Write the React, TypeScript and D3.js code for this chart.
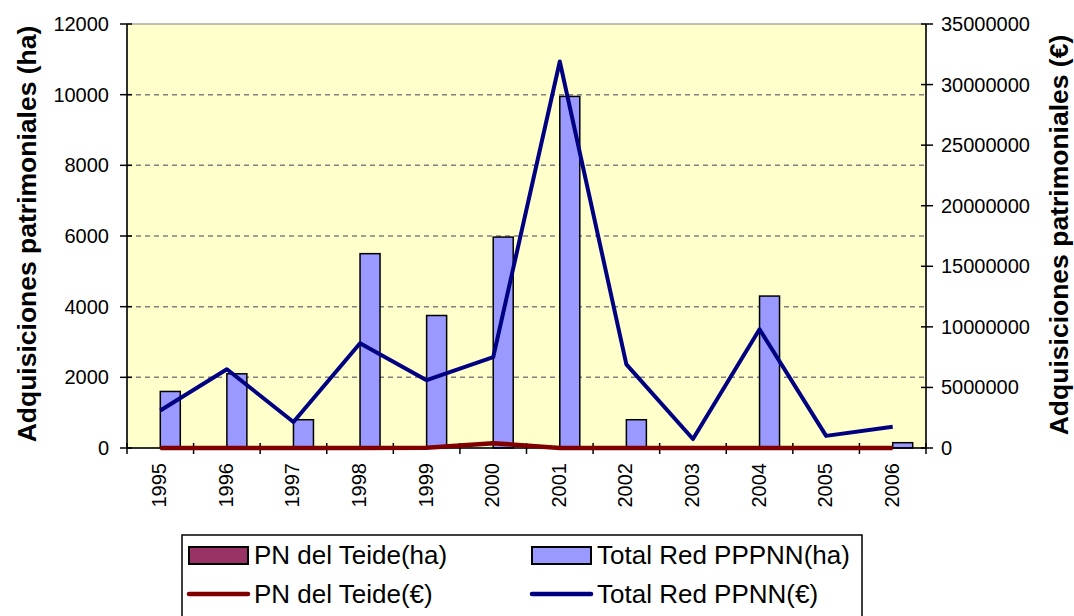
import { useEffect, useRef } from "react"
import * as d3 from "d3"

const years = ["1995", "1996", "1997", "1998", "1999", "2000", "2001", "2002", "2003", "2004", "2005", "2006"]
const teideHa = [0, 0, 0, 0, 0, 0, 0, 0, 0, 0, 0, 0]
const totalHa = [1600, 2100, 800, 5500, 3750, 5970, 9950, 800, 20, 4300, 20, 150]
const teideEur = [0, 0, 0, 0, 20000, 400000, 0, 0, 0, 0, 0, 0]
const totalEur = [3100000, 6500000, 2150000, 8650000, 5600000, 7500000, 31900000, 6900000, 740000, 9800000, 1000000, 1750000]
const leftTicks = [0, 2000, 4000, 6000, 8000, 10000, 12000]
const rightTicks = [0, 5000000, 10000000, 15000000, 20000000, 25000000, 30000000, 35000000]

const FONT = "Arial, 'Liberation Sans', sans-serif"

export default function App() {
  const ref = useRef<SVGSVGElement>(null)

  useEffect(() => {
    const svg = d3.select(ref.current)
    svg.selectAll("*").remove()

    const left = 127, right = 926, top = 24, bottom = 448

    const x = d3.scaleBand().domain(years).range([left, right])
    const yL = d3.scaleLinear().domain([0, 12000]).range([bottom, top])
    const yR = d3.scaleLinear().domain([0, 35000000]).range([bottom, top])
    const barW = 20

    // plot background
    svg.append("rect")
      .attr("x", left).attr("y", top)
      .attr("width", right - left).attr("height", bottom - top)
      .attr("fill", "#FFFFCC")
      .attr("stroke", "#808080")

    // gridlines
    svg.append("g").selectAll("line")
      .data(leftTicks.filter(d => d > 0 && d < 12000))
      .join("line")
      .attr("x1", left).attr("x2", right)
      .attr("y1", d => yL(d)).attr("y2", d => yL(d))
      .attr("stroke", "#808080")
      .attr("stroke-width", 1.5)
      .attr("stroke-dasharray", "5,4")

    // bars
    const center = (y: string) => (x(y) as number) + x.bandwidth() / 2
    svg.append("g").selectAll("rect")
      .data(years)
      .join("rect")
      .attr("x", d => center(d) - barW)
      .attr("y", (d, i) => yL(teideHa[i]))
      .attr("width", barW)
      .attr("height", (d, i) => bottom - yL(teideHa[i]))
      .attr("fill", "#993366")
      .attr("stroke", "#000")
      .attr("stroke-width", 1.5)

    svg.append("g").selectAll("rect")
      .data(years)
      .join("rect")
      .attr("x", d => center(d))
      .attr("y", (d, i) => yL(totalHa[i]))
      .attr("width", barW)
      .attr("height", (d, i) => bottom - yL(totalHa[i]))
      .attr("fill", "#9999FF")
      .attr("stroke", "#000")
      .attr("stroke-width", 1.5)

    // x axis
    svg.append("line")
      .attr("x1", left).attr("x2", right)
      .attr("y1", bottom).attr("y2", bottom)
      .attr("stroke", "#000").attr("stroke-width", 1.5)
    svg.append("g").selectAll("line")
      .data(d3.range(years.length + 1))
      .join("line")
      .attr("x1", i => left + i * x.step()).attr("x2", i => left + i * x.step())
      .attr("y1", bottom - 5).attr("y2", bottom + 6)
      .attr("stroke", "#000").attr("stroke-width", 1.5)
    svg.append("g").selectAll("text")
      .data(years)
      .join("text")
      .attr("transform", d => `translate(${center(d) + 6},${bottom + 15}) rotate(-90)`)
      .attr("text-anchor", "end")
      .style("font-family", FONT)
      .style("font-size", "20px")
      .text(d => d)

    // lines
    const line = d3.line<number>()
      .x((d, i) => center(years[i]))
      .y(d => yR(d))
    svg.append("path")
      .datum(teideEur)
      .attr("d", line)
      .attr("fill", "none")
      .attr("stroke", "#800000")
      .attr("stroke-width", 4.5)
    svg.append("path")
      .datum(totalEur)
      .attr("d", line)
      .attr("fill", "none")
      .attr("stroke", "#000080")
      .attr("stroke-width", 4)
      .attr("stroke-linejoin", "round")

    // left axis
    svg.append("line")
      .attr("x1", left).attr("x2", left)
      .attr("y1", top).attr("y2", bottom)
      .attr("stroke", "#000").attr("stroke-width", 1.5)
    const gl = svg.append("g")
    gl.selectAll("line")
      .data(leftTicks)
      .join("line")
      .attr("x1", left - 7).attr("x2", left + 5)
      .attr("y1", d => yL(d)).attr("y2", d => yL(d))
      .attr("stroke", "#000").attr("stroke-width", 1.5)
    gl.selectAll("text")
      .data(leftTicks)
      .join("text")
      .attr("x", left - 18)
      .attr("y", d => yL(d))
      .attr("dy", "0.35em")
      .attr("text-anchor", "end")
      .style("font-family", FONT)
      .style("font-size", "20px")
      .text(d => d)

    // right axis
    svg.append("line")
      .attr("x1", right).attr("x2", right)
      .attr("y1", top).attr("y2", bottom)
      .attr("stroke", "#000").attr("stroke-width", 1.5)
    const gr = svg.append("g")
    gr.selectAll("line")
      .data(rightTicks)
      .join("line")
      .attr("x1", right - 5).attr("x2", right + 7)
      .attr("y1", d => yR(d)).attr("y2", d => yR(d))
      .attr("stroke", "#000").attr("stroke-width", 1.5)
    gr.selectAll("text")
      .data(rightTicks)
      .join("text")
      .attr("x", right + 15)
      .attr("y", d => yR(d))
      .attr("dy", "0.35em")
      .style("font-family", FONT)
      .style("font-size", "20px")
      .text(d => d)

    // axis titles
    svg.append("text")
      .attr("transform", `translate(36,234) rotate(-90)`)
      .attr("text-anchor", "middle")
      .style("font-family", FONT)
      .style("font-size", "26.5px")
      .style("font-weight", "bold")
      .text("Adquisiciones patrimoniales (ha)")
    svg.append("text")
      .attr("transform", `translate(1068,235) rotate(-90)`)
      .attr("text-anchor", "middle")
      .style("font-family", FONT)
      .style("font-size", "26.5px")
      .style("font-weight", "bold")
      .text("Adquisiciones patrimoniales (€)")

    // legend
    const lg = svg.append("g")
    lg.append("rect")
      .attr("x", 182).attr("y", 535)
      .attr("width", 680).attr("height", 95)
      .attr("fill", "#fff")
      .attr("stroke", "#000").attr("stroke-width", 1.5)
    const items = [
      { label: "PN del Teide(ha)", type: "bar", color: "#993366", col: 0, row: 0 },
      { label: "Total Red PPPNN(ha)", type: "bar", color: "#9999FF", col: 1, row: 0 },
      { label: "PN del Teide(€)", type: "line", color: "#800000", col: 0, row: 1 },
      { label: "Total Red PPNN(€)", type: "line", color: "#000080", col: 1, row: 1 },
    ]
    items.forEach(it => {
      const sx = it.col === 0 ? 189 : 532
      const cy = it.row === 0 ? 555 : 594
      if (it.type === "bar") {
        lg.append("rect")
          .attr("x", sx).attr("y", cy - 8)
          .attr("width", 59).attr("height", 17)
          .attr("fill", it.color)
          .attr("stroke", "#000").attr("stroke-width", 2)
      } else {
        lg.append("line")
          .attr("x1", sx).attr("x2", sx + 59)
          .attr("y1", cy).attr("y2", cy)
          .attr("stroke", it.color).attr("stroke-width", 4.5)
          .attr("stroke-linecap", "round")
      }
      lg.append("text")
        .attr("x", sx + 65)
        .attr("y", cy)
        .attr("dy", "0.36em")
        .style("font-family", FONT)
        .style("font-size", "26px")
        .text(it.label)
    })
  }, [])

  return (
    <svg ref={ref} width={1074} height={616}
      style={{ position: "absolute", left: 0, top: 0, background: "#fff" }} />
  )
}
